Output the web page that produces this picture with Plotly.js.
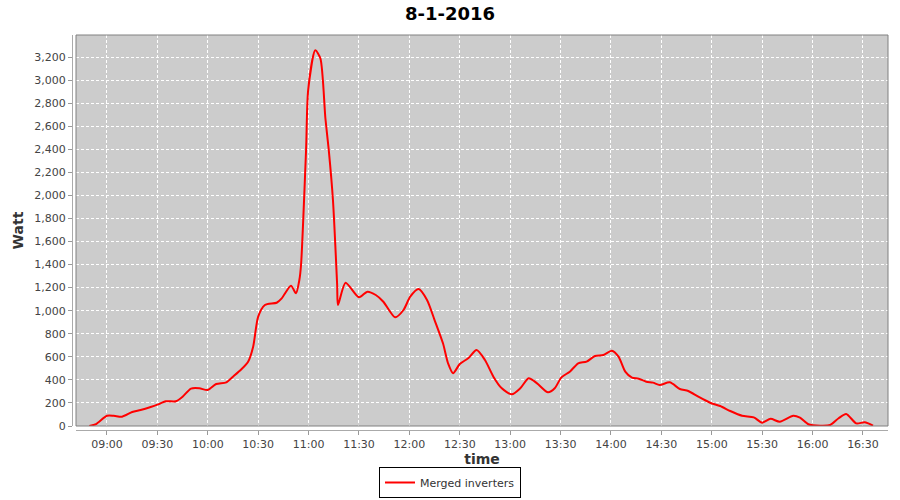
<!DOCTYPE html>
<html>
<head>
<meta charset="utf-8">
<script src="https://cdn.plot.ly/plotly-3.0.1.min.js"></script>
<style>html,body{margin:0;padding:0;background:#fff;}#chart{width:900px;height:500px;}</style>
</head>
<body>
<div id="chart"></div>
<script>
const chartTitle = "8-1-2016";
const seriesName = "Merged inverters";
const times = [
  "08:49:30","08:53:30","09:00:00","09:04:00","09:09:00","09:15:00","09:20:00","09:26:00",
  "09:30:00","09:35:00","09:41:00","09:45:00","09:50:00","09:55:00","10:00:00","10:05:00",
  "10:11:00","10:15:00","10:20:00","10:24:00","10:27:00","10:30:00","10:34:00","10:41:00",
  "10:44:00","10:49:30","10:52:30","10:54:30","10:55:30","10:58:30","10:59:45","11:04:00",
  "11:07:00","11:10:00","11:12:00","11:14:30","11:17:00","11:17:30","11:22:00","11:30:00",
  "11:35:00","11:40:00","11:44:30","11:51:30","11:56:30","12:00:30","12:05:30","12:10:30",
  "12:15:00","12:20:00","12:23:00","12:26:00","12:30:00","12:35:00","12:40:00","12:45:00",
  "12:50:00","12:55:00","13:01:00","13:06:00","13:11:00","13:16:00","13:22:30","13:26:30",
  "13:30:30","13:35:30","13:40:30","13:45:30","13:50:30","13:55:30","14:00:30","14:04:30",
  "14:08:30","14:12:30","14:16:30","14:21:00","14:25:00","14:29:00","14:35:00","14:41:00",
  "14:46:00","14:52:00","14:59:00","15:05:00","15:11:00","15:18:00","15:25:00","15:30:00",
  "15:35:00","15:40:30","15:48:30","15:52:30","15:57:30","16:04:30","16:10:30","16:15:30",
  "16:20:00","16:26:00","16:31:00","16:36:00"
];
const watts = [
  0,17,89,89,81,121,139,165,
  185,214,214,254,324,327,312,364,
  379,428,492,558,688,948,1049,1069,
  1107,1217,1151,1266,1396,2394,2914,3258,
  3189,2669,2394,1960,1223,1049,1243,1116,
  1165,1136,1078,943,1006,1122,1188,1093,
  919,717,544,457,538,587,659,572,
  428,327,275,327,414,370,292,327,
  422,471,544,558,607,616,653,601,
  471,419,410,384,376,356,379,321,
  304,254,202,173,130,89,75,29,
  62,37,89,72,15,3,9,67,
  104,23,32,3
];
const day = "2016-01-08 ";
const xVals = times.map(t => day + t);

const trace = {
  x: xVals, y: watts, type: "scatter", mode: "lines", name: seriesName,
  line: {color: "#ff0000", width: 2, shape: "spline", smoothing: 0.7},
  showlegend: true
};

const xd0 = 4/816, yd0 = 4/395;
const layout = {
  width: 900, height: 500,
  margin: {l: 72, r: 12, t: 35, b: 70, autoexpand: false},
  paper_bgcolor: "#ffffff", plot_bgcolor: "#cccccc",
  font: {family: "DejaVu Sans, Lucida Sans, sans-serif", size: 11, color: "#444444"},
  title: {text: "<b>" + chartTitle + "</b>", x: 0.5, xanchor: "center", y: 0.972, yanchor: "middle",
          font: {family: "DejaVu Sans, sans-serif", size: 18, color: "#000000"}},
  xaxis: {
    type: "date", domain: [xd0, 1], anchor: "free", position: 0, automargin: false,
    range: [day + "08:41:33", day + "16:44:54"],
    dtick: 30*60*1000, tick0: day + "09:00:00", tickformat: "%H:%M",
    ticks: "outside", ticklen: 4, tickcolor: "#999999", tickwidth: 1,
    showline: true, linecolor: "#aaaaaa", linewidth: 1,
    showgrid: true, gridcolor: "#ffffff", gridwidth: 1, griddash: "3px,2px",
    zeroline: false, tickfont: {size: 11, color: "#444444"},
    title: {text: "<b>time</b>", standoff: 5, font: {size: 14, color: "#333333"}}
  },
  yaxis: {
    domain: [yd0, 1], anchor: "free", position: 0, automargin: false,
    range: [0, 3391], dtick: 200, tick0: 0, tickformat: ",d",
    ticks: "outside", ticklen: 4, tickcolor: "#999999", tickwidth: 1,
    showline: true, linecolor: "#aaaaaa", linewidth: 1,
    showgrid: true, gridcolor: "#ffffff", gridwidth: 1, griddash: "3px,2px",
    zeroline: false, tickfont: {size: 11, color: "#444444"},
    title: {text: "<b>Watt</b>", standoff: 6, font: {size: 14, color: "#333333"}}
  },
  shapes: [{
    type: "rect", xref: "paper", yref: "paper", x0: xd0, x1: 1, y0: yd0, y1: 1,
    line: {color: "#808080", width: 1}, fillcolor: "rgba(0,0,0,0)", layer: "above"
  }],
  legend: {
    orientation: "h", xref: "container", x: 0.5, xanchor: "center",
    yref: "container", y: 0.004, yanchor: "bottom",
    bordercolor: "#000000", borderwidth: 1, bgcolor: "#ffffff",
    font: {size: 11, color: "#333333"}, itemwidth: 30
  }
};

Plotly.newPlot("chart", [trace], layout, {displayModeBar: false, staticPlot: true});
</script>
</body>
</html>
